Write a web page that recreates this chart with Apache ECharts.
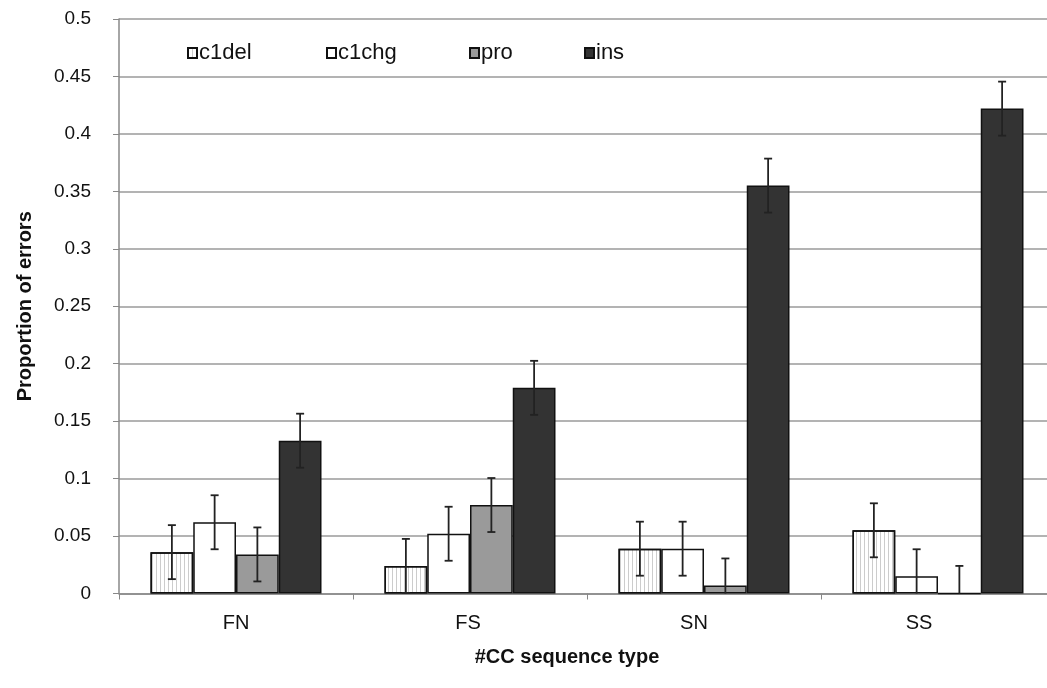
<!DOCTYPE html>
<html>
<head>
<meta charset="utf-8">
<script src="https://cdn.jsdelivr.net/npm/echarts@6/dist/echarts.min.js"></script>
<style>html,body{margin:0;padding:0;background:#fff;overflow:hidden;width:1047px;height:688px}#c{width:1062px;height:688px}</style>
</head>
<body>
<div id="c"></div>
<script>
const categories = ['FN', 'FS', 'SN', 'SS'];
const seriesNames = ['c1del', 'c1chg', 'pro', 'ins'];
const c1del = [0.036, 0.024, 0.039, 0.055];
const c1chg = [0.062, 0.052, 0.039, 0.015];
const pro   = [0.034, 0.077, 0.007, 0.0];
const ins   = [0.133, 0.179, 0.355, 0.422];
const c1delErr = [0.0235, 0.0235, 0.0235, 0.0235];
const c1chgErr = [0.0235, 0.0235, 0.0235, 0.0235];
const proErr   = [0.0235, 0.0235, 0.0235, 0.0240];
const insErr   = [0.0235, 0.0235, 0.0235, 0.0235];
const yTicks = ['0', '0.05', '0.1', '0.15', '0.2', '0.25', '0.3', '0.35', '0.4', '0.45', '0.5'];

const values = [c1del, c1chg, pro, ins];
const errs = [c1delErr, c1chgErr, proErr, insErr];
const fills = ['#ffffff', '#ffffff', '#9a9a9a', '#333333'];
const BW = 42.75;
const FONT = 'Liberation Sans, Arial, sans-serif';

const chart = echarts.init(document.getElementById('c'), null, {renderer: 'canvas'});

const barSeries = seriesNames.map((n, k) => ({
  name: n,
  type: 'bar',
  barWidth: BW,
  barGap: '0%',
  data: values[k],
  itemStyle: Object.assign({
    color: fills[k],
    borderColor: '#111',
    borderWidth: 1.5
  }, k === 0 ? {decal: {symbol: 'rect', symbolSize: 1, dashArrayX: [1, 3], dashArrayY: [4, 0], color: 'rgba(0,0,0,0.2)'}} : {}),
  emphasis: {disabled: true},
  z: 2
}));

const errSeries = seriesNames.map((n, k) => ({
  type: 'custom',
  name: n + '_err',
  data: values[k].map((v, i) => [i, v, errs[k][i]]),
  encode: {x: 0, y: 1},
  z: 5,
  silent: true,
  renderItem: function (params, api) {
    const i = api.value(0), v = api.value(1), e = api.value(2);
    const lo = Math.max(0, v - e), hi = v + e;
    const pHi = api.coord([i, hi]);
    const pLo = api.coord([i, lo]);
    const x = pHi[0] + (k - 1.5) * BW;
    const cap = 4;
    const st = {stroke: '#222', lineWidth: 1.8};
    const children = [
      {type: 'line', shape: {x1: x, y1: pHi[1], x2: x, y2: pLo[1]}, style: st},
      {type: 'line', shape: {x1: x - cap, y1: pHi[1], x2: x + cap, y2: pHi[1]}, style: st}
    ];
    if (v - e > 0) children.push({type: 'line', shape: {x1: x - cap, y1: pLo[1], x2: x + cap, y2: pLo[1]}, style: st});
    return {type: 'group', children: children};
  }
}));

const legendX = [182, 321, 464, 579];
const legends = seriesNames.map((n, k) => ({
  data: [{name: n, icon: 'rect'}],
  left: legendX[k],
  top: 37,
  itemWidth: 9,
  itemHeight: 10,
  itemGap: 0,
  selectedMode: false,
  textStyle: {fontFamily: FONT, fontSize: 22, color: '#111', padding: [0, 0, 0, -3]}
}));

const labelShift = [0, 4, 20, 38];
const rich = {};
labelShift.forEach((s, i) => { rich['p' + i] = {fontFamily: FONT, fontSize: 20, color: '#111', padding: [0, s, 0, 0]}; });

chart.setOption({
  animation: false,
  backgroundColor: '#fff',
  legend: legends,
  grid: {left: 119, width: 936, top: 19, bottom: 94.5, containLabel: false},
  xAxis: {
    type: 'category',
    data: categories,
    axisLine: {lineStyle: {color: '#888', width: 1.5}},
    axisTick: {show: true, length: 6, alignWithLabel: false, lineStyle: {color: '#888'}},
    axisLabel: {fontFamily: FONT, fontSize: 20, color: '#111', margin: 20, rich: rich,
      formatter: function (v, i) { return '{p' + i + '|' + v + '}'; }},
    name: '#CC sequence type',
    nameLocation: 'middle',
    nameGap: 54,
    nameTextStyle: {fontFamily: FONT, fontSize: 20, fontWeight: 'bold', color: '#111', padding: [0, 40, 0, 0]}
  },
  yAxis: {
    type: 'value',
    min: 0,
    max: 0.5,
    interval: 0.05,
    axisLine: {show: true, lineStyle: {color: '#888', width: 1.5}},
    axisTick: {show: true, length: 6, lineStyle: {color: '#888'}},
    axisLabel: {fontFamily: FONT, fontSize: 19, color: '#111', margin: 28,
      formatter: function (v) { return yTicks[Math.round(v / 0.05)]; }},
    splitLine: {show: true, lineStyle: {color: '#9a9a9a', width: 1.5}},
    name: 'Proportion of errors',
    nameLocation: 'middle',
    nameGap: 84,
    nameTextStyle: {fontFamily: FONT, fontSize: 20, fontWeight: 'bold', color: '#111'}
  },
  series: barSeries.concat(errSeries)
});
</script>
</body>
</html>
